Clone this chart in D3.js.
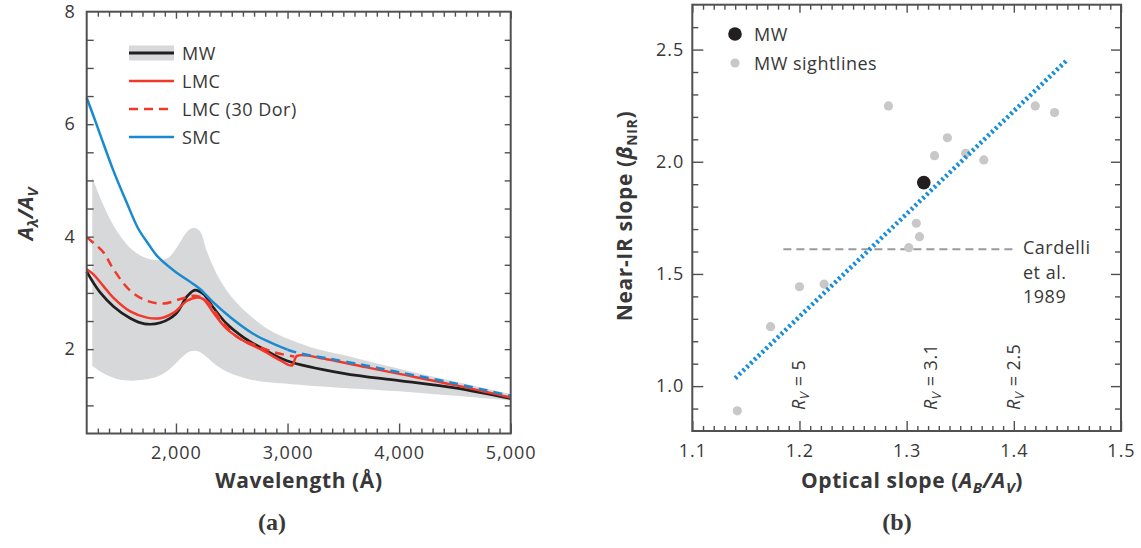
<!DOCTYPE html>
<html>
<head>
<meta charset="utf-8">
<script src="https://cdn.jsdelivr.net/npm/d3@7"></script>
<style>
  body { margin: 0; background: #fff; }
  svg { display: block; }
  text { font-family: "Open Sans", sans-serif; fill: #383838; }
</style>
</head>
<body>
<svg id="fig" width="1141" height="548"></svg>
<script>
// ---------- Panel (a): extinction curves A_lambda / A_V ----------
const mwWave   = [1200, 1260, 1320, 1440, 1590, 1720, 1860, 2000, 2100, 2170, 2245, 2335, 2455, 2605, 2785, 3000, 3500, 4000, 4500, 5000];
const mwValue  = [3.38, 3.18, 3.01, 2.76, 2.55, 2.45, 2.47, 2.63, 2.94, 3.05, 2.98, 2.74, 2.45, 2.21, 2.00, 1.79, 1.57, 1.44, 1.31, 1.12];

const lmcWave  = [1200, 1260, 1350, 1440, 1590, 1740, 1860, 1980, 2100, 2185, 2245, 2335, 2455, 2605, 2785, 2935, 3040, 3085, 3350, 3700, 4000, 4500, 5000];
const lmcValue = [3.42, 3.33, 3.12, 2.91, 2.67, 2.56, 2.55, 2.65, 2.86, 2.92, 2.89, 2.65, 2.36, 2.15, 1.97, 1.80, 1.71, 1.88, 1.82, 1.68, 1.56, 1.36, 1.14];

const dorWave  = [1200, 1350, 1440, 1590, 1740, 1890, 2040, 2170, 2275, 2395, 2545, 2725, 2905, 3060];
const dorValue = [3.99, 3.72, 3.42, 3.04, 2.86, 2.81, 2.89, 2.95, 2.86, 2.54, 2.22, 2.06, 1.93, 1.87];

const smcWave  = [1200, 1260, 1320, 1440, 1560, 1660, 1760, 1830, 1980, 2155, 2215, 2335, 2485, 2695, 3000];
const smcValue = [6.47, 6.15, 5.82, 5.17, 4.60, 4.15, 3.85, 3.66, 3.40, 3.16, 3.07, 2.83, 2.57, 2.27, 1.99];
const smcExtWave  = [3000, 3100, 3350, 3700, 4000, 4500, 5000];
const smcExtValue = [1.99, 1.93, 1.84, 1.71, 1.59, 1.39, 1.17];

// Milky Way sightline range (shaded)
const bandWave = [1250, 1350, 1470, 1600, 1720, 1840, 1935, 2030, 2105, 2160, 2215, 2275, 2370, 2490, 2645, 2830, 3020, 3200, 3510, 4000, 4440, 5000];
const bandHigh = [5.05, 4.56, 4.10, 3.78, 3.63, 3.58, 3.63, 3.88, 4.10, 4.16, 4.10, 3.75, 3.32, 2.95, 2.63, 2.35, 2.17, 2.04, 1.89, 1.65, 1.45, 1.20];
const bandLow  = [1.70, 1.57, 1.47, 1.44, 1.46, 1.52, 1.63, 1.81, 1.94, 1.97, 1.95, 1.86, 1.70, 1.57, 1.47, 1.41, 1.38, 1.35, 1.31, 1.25, 1.18, 1.09];

const waveTicks = [2000, 3000, 4000, 5000];
const extTicks  = [2, 4, 6, 8];
const legendA   = ["MW", "LMC", "LMC (30 Dor)", "SMC"];

// ---------- Panel (b): near-IR slope vs optical slope ----------
const sightX = [1.142, 1.173, 1.200, 1.223, 1.283, 1.302, 1.309, 1.312, 1.326, 1.338, 1.355, 1.372, 1.420, 1.438];
const sightY = [0.890, 1.265, 1.443, 1.455, 2.249, 1.617, 1.726, 1.666, 2.027, 2.107, 2.038, 2.008, 2.249, 2.219];
const mwX = [1.316];
const mwY = [1.907];
const fitX = [1.140, 1.450];
const fitY = [1.035, 2.455];
const cardelliX = [1.185, 1.400];
const cardelliY = [1.61, 1.61];
const rvPos   = [1.200, 1.323, 1.400];
const rvLabel = ["5", "3.1", "2.5"];
const slopeXTicks = [1.1, 1.2, 1.3, 1.4, 1.5];
const slopeYTicks = [1.0, 1.5, 2.0, 2.5];

const C = { mw: "#231f20", lmc: "#f2382a", smc: "#1a8ad0", band: "#d7d8da", frame: "#505050", sight: "#c8c8c8", fit: "#1a8fd8", dash: "#9a9a9a" };
const LS = "0.5px";   // general letter spacing
const svg = d3.select("#fig");

// inward tick marks drawn with d3 axes
function tickMarks(g, axisFn, scale, values, size, transform) {
  g.append("g").attr("transform", transform)
    .call(axisFn(scale).tickValues(values).tickSize(-size).tickFormat(""))
    .call(s => s.select(".domain").remove())
    .selectAll("line").attr("stroke", C.frame).attr("stroke-width", 1.4);
}
function tickLabels(g, axisFn, scale, values, fmt, pad, transform, size) {
  const a = g.append("g").attr("transform", transform)
    .call(axisFn(scale).tickValues(values).tickSize(0).tickPadding(pad).tickFormat(fmt));
  a.select(".domain").remove();
  a.selectAll("text").attr("font-size", size).attr("fill", "#383838")
    .style("font-family", '"Open Sans", sans-serif').style("letter-spacing", "1px");
  return a;
}

// ===== Panel (a) =====
const A = { l: 86.7, r: 510.7, t: 11.7, b: 433.5 };
const xa = d3.scaleLinear().domain([1200, 5000]).range([A.l, A.r]);
const ya = d3.scaleLinear().domain([0.5, 8]).range([A.b, A.t]);
const ga = svg.append("g");
const smooth = d3.curveCatmullRom.alpha(0.5);

ga.append("path")
  .datum(bandWave.map((w, i) => [w, bandLow[i], bandHigh[i]]))
  .attr("fill", C.band)
  .attr("d", d3.area().x(d => xa(d[0])).y0(d => ya(d[1])).y1(d => ya(d[2])).curve(smooth));

const lineA = d3.line().x(d => xa(d[0])).y(d => ya(d[1])).curve(smooth);
const zip = (w, v) => w.map((x, i) => [x, v[i]]);

ga.append("path").datum(zip(mwWave, mwValue)).attr("d", lineA)
  .attr("fill", "none").attr("stroke", C.mw).attr("stroke-width", 2.7);
ga.append("path").datum(zip(lmcWave, lmcValue)).attr("d", lineA)
  .attr("fill", "none").attr("stroke", C.lmc).attr("stroke-width", 2.5);
ga.append("path").datum(zip(dorWave, dorValue)).attr("d", lineA)
  .attr("fill", "none").attr("stroke", C.lmc).attr("stroke-width", 2.5).attr("stroke-dasharray", "9,6");
ga.append("path").datum(zip(smcWave, smcValue)).attr("d", lineA)
  .attr("fill", "none").attr("stroke", C.smc).attr("stroke-width", 2.5);
ga.append("path").datum(zip(smcExtWave, smcExtValue)).attr("d", lineA)
  .attr("fill", "none").attr("stroke", C.smc).attr("stroke-width", 2.5).attr("stroke-dasharray", "9,6");

// frame and ticks
ga.append("rect").attr("x", A.l).attr("y", A.t).attr("width", A.r - A.l).attr("height", A.b - A.t)
  .attr("fill", "none").attr("stroke", C.frame).attr("stroke-width", 2);
const waveMinor = d3.range(1300, 5000, 100).filter(v => v % 1000 !== 0);
tickMarks(ga, d3.axisBottom, xa, waveMinor, 5, `translate(0,${A.b})`);
tickMarks(ga, d3.axisBottom, xa, waveTicks, 10, `translate(0,${A.b})`);
tickMarks(ga, d3.axisTop, xa, waveMinor, 5, `translate(0,${A.t})`);
tickMarks(ga, d3.axisTop, xa, waveTicks, 7, `translate(0,${A.t})`);
const extMinor = d3.range(1, 8, 0.5);
tickMarks(ga, d3.axisLeft, ya, extMinor, 7, `translate(${A.l},0)`);
tickMarks(ga, d3.axisRight, ya, extMinor, 6, `translate(${A.r},0)`);

tickLabels(ga, d3.axisBottom, xa, waveTicks, d3.format(","), 13, `translate(0,${A.b})`, 18);
tickLabels(ga, d3.axisLeft, ya, extTicks, d3.format("d"), 11, `translate(${A.l},0)`, 18);

// axis titles
ga.append("text").attr("x", 299).attr("y", 488).attr("text-anchor", "middle")
  .attr("font-size", 21).attr("font-weight", 700).style("letter-spacing", "0.6px").text("Wavelength (Å)");
const yta = ga.append("text").attr("transform", "translate(33,214) rotate(-90)")
  .attr("text-anchor", "middle").attr("font-size", 21).attr("font-weight", 700).attr("font-style", "italic");
yta.append("tspan").text("A");
yta.append("tspan").attr("font-size", 15).attr("dy", 5).text("λ");
yta.append("tspan").attr("dy", -5).text("/A");
yta.append("tspan").attr("font-size", 15).attr("dy", 5).text("V");

// legend
const legY = [53, 81, 109, 137];
ga.append("rect").attr("x", 129).attr("y", legY[0] - 7.5).attr("width", 45).attr("height", 15).attr("fill", C.band);
const legStyle = [
  { c: C.mw, d: null }, { c: C.lmc, d: null }, { c: C.lmc, d: "9,6" }, { c: C.smc, d: null }
];
legendA.forEach((name, i) => {
  ga.append("line").attr("x1", 129).attr("x2", 174).attr("y1", legY[i]).attr("y2", legY[i])
    .attr("stroke", legStyle[i].c).attr("stroke-width", i === 0 ? 3 : 2.6)
    .attr("stroke-dasharray", legStyle[i].d);
  ga.append("text").attr("x", 182).attr("y", legY[i] + 6.5).attr("font-size", 18)
    .style("letter-spacing", LS).text(name);
});

// ===== Panel (b) =====
const B = { l: 692.3, r: 1121, t: 4.7, b: 431 };
const xb = d3.scaleLinear().domain([1.1, 1.5]).range([B.l, B.r]);
const yb = d3.scaleLinear().domain([0.8, 2.7]).range([B.b, B.t]);
const gb = svg.append("g");

// Cardelli et al. 1989 relation
gb.append("path").datum(zip(cardelliX, cardelliY))
  .attr("d", d3.line().x(d => xb(d[0])).y(d => yb(d[1])))
  .attr("fill", "none").attr("stroke", C.dash).attr("stroke-width", 2).attr("stroke-dasharray", "8,5");

// sightlines
gb.selectAll("circle.sight").data(zip(sightX, sightY)).join("circle").attr("class", "sight")
  .attr("cx", d => xb(d[0])).attr("cy", d => yb(d[1])).attr("r", 4.6).attr("fill", C.sight);

// linear relation (dotted)
gb.append("path").datum(zip(fitX, fitY))
  .attr("d", d3.line().x(d => xb(d[0])).y(d => yb(d[1])))
  .attr("fill", "none").attr("stroke", C.fit).attr("stroke-width", 4.6).attr("stroke-dasharray", "2.5,2.8");

// Milky Way average
gb.selectAll("circle.mw").data(zip(mwX, mwY)).join("circle").attr("class", "mw")
  .attr("cx", d => xb(d[0])).attr("cy", d => yb(d[1])).attr("r", 6.8).attr("fill", C.mw);

// frame and ticks
gb.append("rect").attr("x", B.l).attr("y", B.t).attr("width", B.r - B.l).attr("height", B.b - B.t)
  .attr("fill", "none").attr("stroke", C.frame).attr("stroke-width", 2);
const slopeXMinor = d3.range(111, 150).filter(v => v % 10 !== 0).map(v => v / 100);
const slopeYMinor = d3.range(9, 27).filter(v => v % 5 !== 0).map(v => v / 10);
tickMarks(gb, d3.axisBottom, xb, slopeXMinor, 5, `translate(0,${B.b})`);
tickMarks(gb, d3.axisBottom, xb, slopeXTicks, 10, `translate(0,${B.b})`);
tickMarks(gb, d3.axisTop, xb, slopeXMinor, 5, `translate(0,${B.t})`);
tickMarks(gb, d3.axisTop, xb, slopeXTicks, 8, `translate(0,${B.t})`);
tickMarks(gb, d3.axisLeft, yb, slopeYMinor, 6, `translate(${B.l},0)`);
tickMarks(gb, d3.axisLeft, yb, slopeYTicks, 11, `translate(${B.l},0)`);
tickMarks(gb, d3.axisRight, yb, slopeYMinor, 6, `translate(${B.r},0)`);
tickMarks(gb, d3.axisRight, yb, slopeYTicks, 10, `translate(${B.r},0)`);

tickLabels(gb, d3.axisBottom, xb, slopeXTicks, d3.format(".1f"), 13, `translate(0,${B.b})`, 18);
tickLabels(gb, d3.axisLeft, yb, slopeYTicks, d3.format(".1f"), 8, `translate(${B.l},0)`, 18);

// axis titles
const xtb = gb.append("text").attr("x", 912).attr("y", 488).attr("text-anchor", "middle")
  .attr("font-size", 21).attr("font-weight", 700).style("letter-spacing", "0.6px");
xtb.append("tspan").text("Optical slope (");
xtb.append("tspan").attr("font-style", "italic").text("A");
xtb.append("tspan").attr("font-style", "italic").attr("font-size", 15).attr("dy", 5).text("B");
xtb.append("tspan").attr("font-style", "italic").attr("dy", -5).text("/A");
xtb.append("tspan").attr("font-style", "italic").attr("font-size", 15).attr("dy", 5).text("V");
xtb.append("tspan").attr("dy", -5).text(")");

const ytb = gb.append("text").attr("transform", "translate(632,216) rotate(-90)")
  .attr("text-anchor", "middle").attr("font-size", 21).attr("font-weight", 700).style("letter-spacing", "0.6px");
ytb.append("tspan").text("Near-IR slope (");
ytb.append("tspan").attr("font-style", "italic").text("β");
ytb.append("tspan").attr("font-size", 14).attr("dy", 5).text("NIR");
ytb.append("tspan").attr("dy", -5).text(")");

// legend
gb.append("circle").attr("cx", 735).attr("cy", 34).attr("r", 6.8).attr("fill", C.mw);
gb.append("circle").attr("cx", 735).attr("cy", 63).attr("r", 4.6).attr("fill", C.sight);
gb.append("text").attr("x", 754).attr("y", 40.5).attr("font-size", 18).style("letter-spacing", LS).text("MW");
gb.append("text").attr("x", 754).attr("y", 69.5).attr("font-size", 18).style("letter-spacing", LS).text("MW sightlines");

// Cardelli label
const cl = gb.append("text").attr("x", 1023).attr("font-size", 18).style("letter-spacing", LS);
["Cardelli", "et al.", "1989"].forEach((t, i) => cl.append("tspan").attr("x", 1023).attr("y", 254 + i * 24.5).text(t));

// R_V markers
rvPos.forEach((p, i) => {
  const t = gb.append("text").attr("transform", `translate(${xb(p) + 6},410) rotate(-90)`)
    .attr("font-size", 18).style("letter-spacing", LS);
  t.append("tspan").attr("font-style", "italic").text("R");
  t.append("tspan").attr("font-style", "italic").attr("font-size", 13).attr("dy", 4).text("V");
  t.append("tspan").attr("dy", -4).text(" = " + rvLabel[i]);
});

// panel captions
svg.append("text").attr("x", 272).attr("y", 530).attr("text-anchor", "middle")
  .attr("font-size", 24).attr("font-weight", 700).style("font-family", '"Liberation Serif", serif').attr("fill", "#111").text("(a)");
svg.append("text").attr("x", 897).attr("y", 530).attr("text-anchor", "middle")
  .attr("font-size", 24).attr("font-weight", 700).style("font-family", '"Liberation Serif", serif').attr("fill", "#111").text("(b)");
</script>
</body>
</html>
